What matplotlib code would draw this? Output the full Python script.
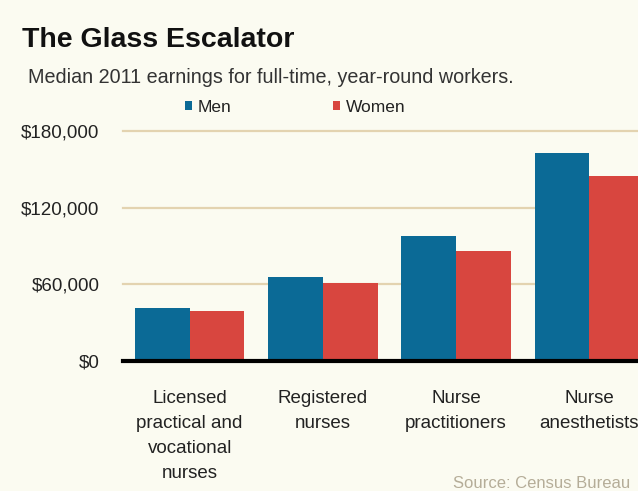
import matplotlib
matplotlib.use("Agg")
import matplotlib.pyplot as plt
import numpy as np

# data
categories = ["Licensed\npractical and\nvocational\nnurses", "Registered\nnurses",
              "Nurse\npractitioners", "Nurse\nanesthetists"]
men   = [41300, 65500, 98200, 162900]
women = [39000, 60800, 85700, 145000]
yticks = [0, 60000, 120000, 180000]
ytick_labels = ["$0", "$60,000", "$120,000", "$180,000"]

plt.rcParams["font.family"] = ["Liberation Sans", "DejaVu Sans"]

bg     = "#fbfbf1"
blue   = "#0b6a96"
red    = "#d8463f"
grid_c = "#e3d3b0"
text_c = "#222222"

fig = plt.figure(figsize=(6.38, 4.91), dpi=100, facecolor=bg)
ax = fig.add_axes([123/638, 130/491, 533/638, 230/491])
ax.set_facecolor(bg)

x = np.arange(len(categories))
w = 0.41
b1 = ax.bar(x - w/2, men, w, color=blue, zorder=3, label="Men")
b2 = ax.bar(x + w/2, women, w, color=red, zorder=3, label="Women")

ax.set_xlim(-0.5, 3.5)
ax.set_ylim(0, 180000)
for v in yticks[1:]:
    ax.axhline(v, color=grid_c, lw=1.6, zorder=1, clip_on=False)
ax.axhline(0, color="black", lw=3, zorder=4, clip_on=False)

for s in ax.spines.values():
    s.set_visible(False)
ax.set_yticks(yticks)
ax.set_yticklabels(ytick_labels, fontsize=13.5, color=text_c)
ax.set_xticks(x)
ax.set_xticklabels(categories, fontsize=13.5, color=text_c, linespacing=1.6, va="top")
ax.tick_params(axis="y", length=0, pad=17)
ax.tick_params(axis="x", length=0, pad=21)

fig.text(22/638, 1 - 47/491, "The Glass Escalator", fontsize=20.5, fontweight="bold",
         color="#111111", va="baseline", ha="left")
fig.text(28/638, 1 - 83/491, "Median 2011 earnings for full-time, year-round workers.",
         fontsize=14.2, color="#333333", va="baseline", ha="left")

leg = fig.legend(handles=[b1, b2], loc="center left", bbox_to_anchor=(185/638, 1 - 107/491),
                 ncol=2, frameon=False, fontsize=12.5, handlelength=0.4, handleheight=0.4,
                 handletextpad=0.3, columnspacing=5.9, borderpad=0, borderaxespad=0)
for t in leg.get_texts():
    t.set_color(text_c)

fig.text(453/638, 1 - 488/491, "Source: Census Bureau", fontsize=12, color="#b5ad98",
         va="baseline", ha="left")

fig.savefig("out.png", dpi=100, facecolor=bg)
